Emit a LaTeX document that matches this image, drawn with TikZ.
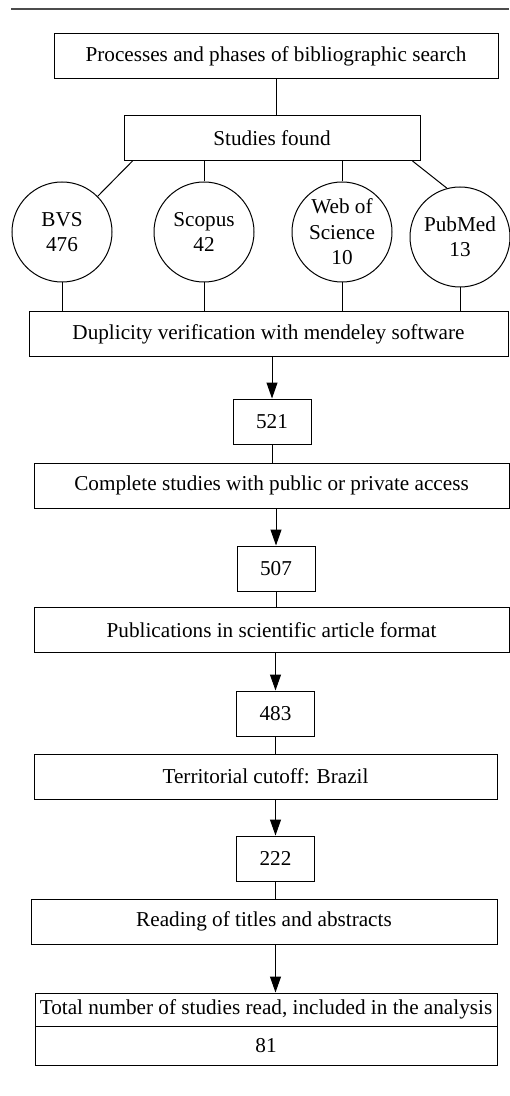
\documentclass[tikz,border=0pt]{standalone}
\usepackage{fontspec}
\setmainfont{Liberation Serif}
\usetikzlibrary{arrows.meta}
\tikzset{
  stage/.style={draw, line width=0.5pt, minimum height=22.5pt, inner sep=0pt,
    font=\fontsize{10.6}{12.7}\selectfont},
  count/.style={stage, minimum width=39pt},
  base/.style={draw, circle, line width=0.5pt, minimum size=50pt, inner sep=0pt,
    align=center, font=\fontsize{10.6}{12.7}\selectfont},
  link/.style={line width=0.5pt},
  flow/.style={line width=0.5pt, -{Triangle[length=8pt,width=5.5pt]}}
}

\begin{document}
\begin{tikzpicture}[x=0.5pt, y=-0.5pt]
  \useasboundingbox (0,0) rectangle (509,1096);

  % rule over the figure
  \draw [line width=0.6pt, black!70] (11,9) -- (509,9);

  \node [stage, minimum width=222pt] (search) at (276,56.5) {Processes and phases of bibliographic search};
  \node [stage, minimum width=148pt] (found) at (272,138) {Studies found};

  % databases
  \node [base] (bvs) at (62,232) {BVS\\476};
  \node [base] (scopus) at (204,232) {Scopus\\42};
  \node [base] (wos) at (342,232) {Web of\\Science\\10};
  \node [base] (pubmed) at (460,237) {PubMed\\13};

  \node [stage, minimum width=239.5pt] (dup) at (268.5,334) {Duplicity verification with mendeley software};

  % filtering steps
  \node [count] (n521) at (272,421.5) {521};
  \node [stage, minimum width=237.5pt] (access) at (271.5,485.5) {Complete studies with public or private access};
  \node [count] (n507) at (276,568.5) {507};
  \node [stage, minimum width=237.5pt] (format) at (271.5,630) {Publications in scientific article format};
  \node [count] (n483) at (275.5,713.5) {483};
  \node [stage, minimum width=231.5pt] (brazil) at (265.5,776.5) {Territorial cutoff: Brazil};
  \node [count] (n222) at (275.5,858.5) {222};
  \node [stage, minimum width=233pt] (reading) at (264,921.5) {Reading of titles and abstracts};

  % result
  \node [stage, minimum width=231pt, minimum height=16.5pt] (total) at (266,1009.5) {Total number of studies read, included in the analysis};
  \node [stage, minimum width=231pt, minimum height=19.5pt] (final) at (266,1045.5) {81};

  \draw [link] (search.south) -- (search.south |- found.north);
  \draw [link] ([xshift=4.5pt]found.south west) -- (bvs.45);
  \draw [link] (found.south -| scopus) -- (scopus);
  \draw [link] (found.south -| wos) -- (wos);
  \draw [link] ([xshift=-4pt]found.south east) -- (pubmed.105);
  \foreach \n in {bvs,scopus,wos,pubmed} \draw [link] (\n) -- (\n |- dup.north);

  \draw [flow] (n521 |- dup.south) -- (n521);
  \draw [link] (n521) -- (n521 |- access.north);
  \draw [flow] (n507 |- access.south) -- (n507);
  \draw [link] (n507) -- (n507 |- format.north);
  \draw [flow] (n483 |- format.south) -- (n483);
  \draw [link] (n483) -- (n483 |- brazil.north);
  \draw [flow] (n222 |- brazil.south) -- (n222);
  \draw [link] (n222) -- (n222 |- reading.north);
  \draw [flow] (reading.south -| n222) -- (n222 |- total.north);

\end{tikzpicture}
\end{document}
